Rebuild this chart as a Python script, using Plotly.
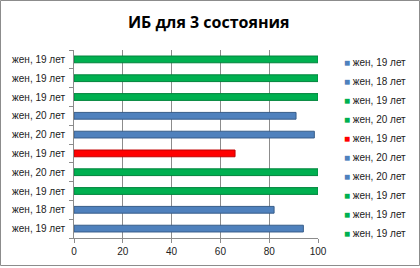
import plotly.graph_objects as go

labels = ["жен, 19 лет", "жен, 18 лет", "жен, 19 лет", "жен, 20 лет", "жен, 19 лет",
          "жен, 20 лет", "жен, 20 лет", "жен, 19 лет", "жен, 19 лет", "жен, 19 лет"]
values = [94, 82, 100, 100, 66, 98.5, 91, 100, 100, 100]
colors = ["#4F81BD", "#4F81BD", "#00B050", "#00B050", "#FF0000",
          "#4F81BD", "#4F81BD", "#00B050", "#00B050", "#00B050"]
edges = ["#385D8A", "#385D8A", "#00843C", "#00843C", "#C00000",
         "#385D8A", "#385D8A", "#00843C", "#00843C", "#00843C"]
title = "ИБ для 3 состояния"

fig = go.Figure()
for i, (lab, v, c, e) in enumerate(zip(labels, values, colors, edges)):
    fig.add_trace(go.Bar(
        x=[v], y=[i], orientation="h", name=lab, width=0.36,
        marker=dict(color=c, line=dict(color=e, width=1)),
        showlegend=False,
    ))
for i, (lab, c) in enumerate(zip(labels, colors)):
    fig.add_trace(go.Scatter(
        x=[None], y=[None], mode="markers",
        name="<span style='color:%s'>■</span> %s" % (c, lab),
        marker=dict(symbol="square", size=1, color="rgba(0,0,0,0)"),
        legendgroup=str(i), showlegend=True,
    ))

font = "Liberation Sans"
fig.update_layout(
    width=420, height=268,
    margin=dict(l=74, r=102, t=50, b=30, autoexpand=False),
    paper_bgcolor="white", plot_bgcolor="white",
    barmode="overlay",
    title=dict(text="<b>" + title + "</b>", x=0.497, xanchor="center", y=0.915, yanchor="middle",
               font=dict(family="Open Sans", size=16, color="black")),
    font=dict(family=font, size=10, color="#222"),
    legend=dict(x=(304 - 74) / 244, xanchor="left", y=(238 - 48) / 188, yanchor="top", traceorder="normal",
                font=dict(family=font, size=10, color="#222"), maxheight=260,
                tracegroupgap=3.4, itemwidth=30, bgcolor="rgba(0,0,0,0)"),
    xaxis=dict(range=[0, 100], dtick=20, showgrid=True, gridcolor="#8C8C8C", gridwidth=1,
               showline=True, linecolor="#8C8C8C", ticks="outside", ticklen=4, tickcolor="#8C8C8C",
               zeroline=False, fixedrange=True, automargin=False, tickfont=dict(size=10, color="#222")),
    yaxis=dict(range=[-0.5, 9.5], tickmode="array", tickvals=list(range(10)), ticktext=labels,
               showgrid=False, showline=True, linecolor="#8C8C8C", ticks="", zeroline=False,
               automargin=False, fixedrange=True,
               minor=dict(tickmode="array", tickvals=[k + 0.5 for k in range(-1, 10)], ticks="outside",
                          ticklen=4, tickcolor="#8C8C8C", showgrid=False),
               ticklabelstandoff=6, tickfont=dict(size=10, color="#222")),
    shapes=[dict(type="rect", xref="paper", yref="paper",
                 x0=(0.5 - 74) / 244, x1=(419.5 - 74) / 244,
                 y0=(238 - 265.5) / 188, y1=(238 - 0.5) / 188,
                 line=dict(color="#8C8C8C", width=1), fillcolor="rgba(0,0,0,0)", layer="below")],
)

fig.write_html("out.html", config={"displayModeBar": False},
               post_script="document.body.style.margin='0';")
